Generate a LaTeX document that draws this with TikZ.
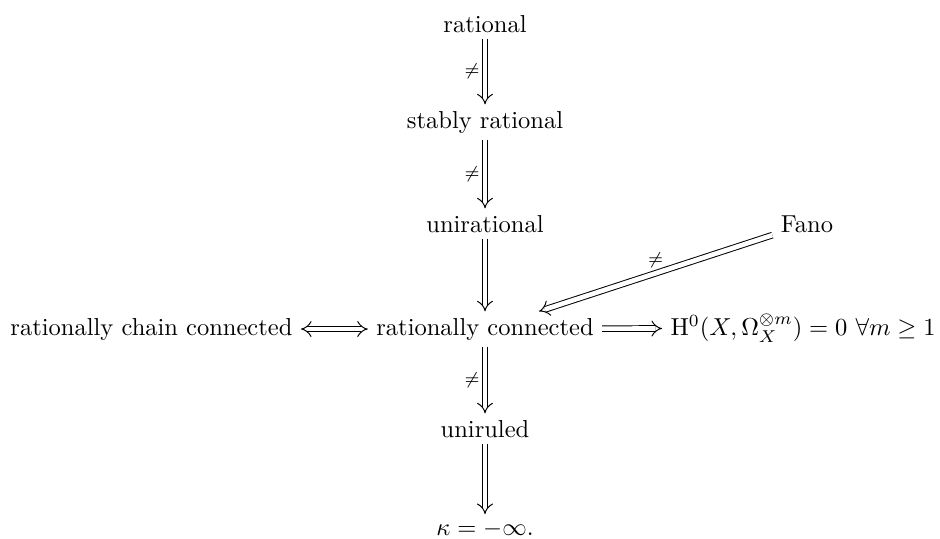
\documentclass[tikz,border=0pt]{standalone}
\usepackage{amsmath,amssymb}
\usetikzlibrary{arrows.meta}
\begin{document}
\begin{tikzpicture}[x=0.408pt,y=-0.408pt,
  obj/.style={inner xsep=3.3pt, inner ysep=2.5pt},
  imp/.style={double, double distance=1.9pt, -{Implies}, line width=0.4pt},
  iff/.style={double, double distance=1.9pt, {Implies}-{Implies}, line width=0.4pt},
  lbl/.style={font=\scriptsize, inner sep=2pt}]
\useasboundingbox (0,0) rectangle (940,538);
\node[obj, anchor=base] (rat) at (485,32) {rational};
\node[obj, anchor=base] (srat) at (485,128) {stably rational};
\node[obj, anchor=base] (unirat) at (485,232) {unirational};
\node[obj, anchor=base] (rc) at (485,335) {rationally connected};
\node[obj, anchor=base] (unir) at (485,437) {uniruled};
\node[obj, anchor=base] (kappa) at (485,535) {$\kappa=-\infty.$};
\node[obj, anchor=base] (fano) at (807,232) {Fano};
\node[obj, anchor=base east] (rcc) at (301,335) {rationally chain connected};
\node[obj, anchor=base west] (H) at (662,335) {$\mathrm{H}^0(X,\Omega_X^{\otimes m})=0$ $\forall m\geq 1$};
\draw[imp] (rat) -- node[left, lbl] {$\neq$} (srat);
\draw[imp] (srat) -- node[left, lbl] {$\neq$} (unirat);
\draw[imp] (unirat) -- (rc);
\draw[imp] (rc) -- node[left, lbl] {$\neq$} (unir);
\draw[imp] (unir) -- (kappa);
\draw[imp] (fano) -- node[above, lbl] {$\neq$} (rc);
\draw[iff] (rcc) -- (rc);
\draw[imp] (rc) -- (H);
\end{tikzpicture}
\end{document}
